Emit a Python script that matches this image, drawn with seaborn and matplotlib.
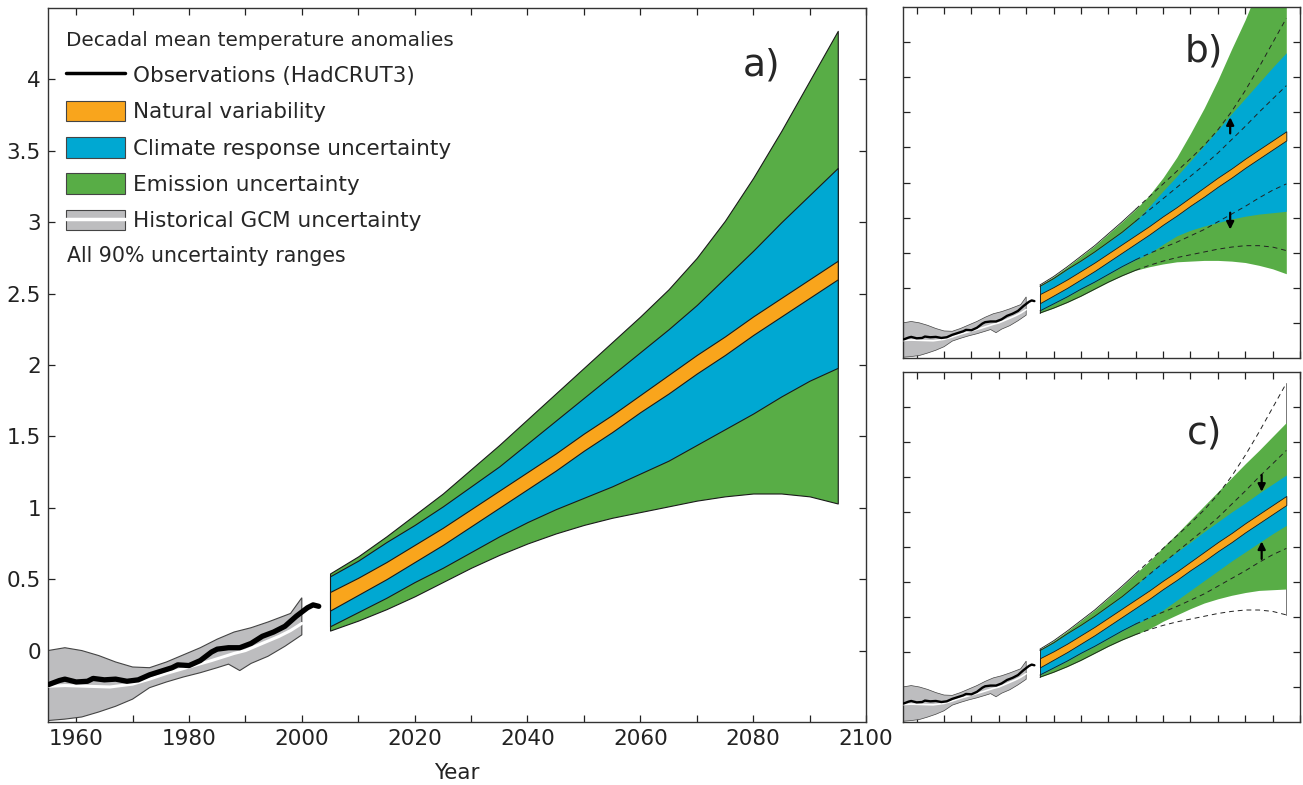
import matplotlib
matplotlib.use("Agg")
import matplotlib.pyplot as plt
import seaborn as sns
import numpy as np
from matplotlib.patches import Patch
from matplotlib.lines import Line2D
from matplotlib.legend_handler import HandlerTuple
from matplotlib.ticker import MultipleLocator, FormatStrFormatter

# --- Historical data (1955-2003) ---
grey_hi_years = [1955, 1958, 1961, 1964, 1967, 1970, 1973, 1976, 1979, 1982, 1985, 1988, 1991, 1994, 1996, 1998, 2000]
grey_hi = [0.00, 0.02, 0.00, -0.035, -0.08, -0.115, -0.12, -0.08, -0.03, 0.02, 0.08, 0.13, 0.16, 0.20, 0.23, 0.26, 0.37]
grey_lo_years = [1955, 1958, 1961, 1964, 1967, 1970, 1973, 1976, 1979, 1982, 1985, 1987, 1989, 1991, 1994, 1997, 2000]
grey_lo = [-0.49, -0.48, -0.465, -0.43, -0.39, -0.34, -0.26, -0.22, -0.185, -0.155, -0.12, -0.095, -0.14, -0.09, -0.04, 0.03, 0.11]

obs_years = [1955, 1957, 1958, 1960, 1962, 1963, 1965, 1967, 1969, 1971, 1973, 1975, 1977, 1978, 1980,
             1982, 1984, 1985, 1987, 1989, 1991, 1993, 1995, 1997, 1999, 2000, 2001, 2002, 2003]
obs = [-0.24, -0.21, -0.20, -0.22, -0.215, -0.195, -0.205, -0.20, -0.215, -0.205, -0.17, -0.145, -0.12, -0.10, -0.105,
       -0.07, -0.01, 0.01, 0.02, 0.02, 0.05, 0.10, 0.13, 0.17, 0.24, 0.27, 0.30, 0.32, 0.31]

gcm_years = [1955, 1958, 1962, 1966, 1970, 1973, 1976, 1980, 1984, 1988, 1990, 1993, 1996, 1998, 2000]
gcm_mean = [-0.25, -0.245, -0.25, -0.255, -0.235, -0.20, -0.16, -0.115, -0.07, -0.02, 0.00, 0.05, 0.10, 0.14, 0.19]

# --- Projections, panel a (2005-2095) ---
proj_years = [2005, 2010, 2015, 2020, 2025, 2030, 2035, 2040, 2045, 2050,
              2055, 2060, 2065, 2070, 2075, 2080, 2085, 2090, 2095]
green_hi = [0.54, 0.66, 0.80, 0.95, 1.10, 1.27, 1.44, 1.62, 1.80, 1.98, 2.16, 2.34, 2.53, 2.75, 3.01, 3.31, 3.64, 3.99, 4.34]
blue_hi = [0.52, 0.63, 0.76, 0.88, 1.01, 1.15, 1.29, 1.45, 1.61, 1.77, 1.93, 2.09, 2.25, 2.42, 2.61, 2.80, 3.00, 3.19, 3.38]
orange_hi = [0.41, 0.51, 0.62, 0.74, 0.86, 0.99, 1.12, 1.25, 1.38, 1.52, 1.65, 1.79, 1.93, 2.07, 2.20, 2.34, 2.47, 2.60, 2.73]
orange_lo = [0.28, 0.39, 0.50, 0.62, 0.74, 0.87, 1.00, 1.13, 1.26, 1.40, 1.53, 1.67, 1.80, 1.94, 2.07, 2.21, 2.34, 2.47, 2.60]
blue_lo = [0.17, 0.27, 0.37, 0.48, 0.58, 0.69, 0.80, 0.90, 0.99, 1.07, 1.15, 1.24, 1.33, 1.44, 1.55, 1.66, 1.78, 1.89, 1.98]
green_lo = [0.14, 0.21, 0.29, 0.38, 0.48, 0.58, 0.67, 0.75, 0.82, 0.88, 0.93, 0.97, 1.01, 1.05, 1.08, 1.10, 1.10, 1.08, 1.03]

# --- Panel b: 2045-2095 part (larger uncertainty) ---
b_green_hi_late = [1.82, 2.07, 2.36, 2.70, 3.06, 3.46, 3.90, 4.32, 4.80, 5.30, 5.80]
b_blue_hi_late = [1.66, 1.88, 2.09, 2.31, 2.53, 2.75, 2.98, 3.20, 3.42, 3.64, 3.85]
b_blue_lo_late = [0.99, 1.12, 1.24, 1.32, 1.38, 1.43, 1.48, 1.52, 1.55, 1.57, 1.59]
b_green_lo_late = [0.80, 0.84, 0.87, 0.88, 0.89, 0.89, 0.88, 0.86, 0.82, 0.77, 0.70]

# --- Panel c: 2045-2095 part (smaller uncertainty) ---
c_green_hi_late = [1.80, 2.00, 2.19, 2.39, 2.59, 2.79, 2.99, 3.19, 3.38, 3.58, 3.78]
c_blue_hi_late = [1.63, 1.79, 1.93, 2.07, 2.22, 2.36, 2.50, 2.63, 2.77, 2.90, 3.03]
c_blue_lo_late = [0.99, 1.10, 1.24, 1.38, 1.52, 1.66, 1.80, 1.93, 2.06, 2.19, 2.31]
c_green_lo_late = [0.83, 0.94, 1.03, 1.12, 1.20, 1.26, 1.31, 1.35, 1.38, 1.39, 1.40]

# arrows (year, start, end) in panels b and c
b_arrows = [(2074.5, 2.70, 2.93), (2074.5, 1.57, 1.33)]
c_arrows = [(2086, 3.03, 2.79), (2086, 1.83, 2.08)]

GREEN = "#58ad46"
BLUE = "#00a8d2"
ORANGE = "#f9a51c"
GREY = "#bdbdbf"
EDGE = "#1a1a1a"
FS = 15.5

sns.set_style("white")
plt.rcParams['font.family'] = ['DejaVu Sans']

fig = plt.figure(figsize=(13.03, 7.85), dpi=100)
ax_a = fig.add_axes([0.0368, 0.0803, 0.6278, 0.9095])
ax_b = fig.add_axes([0.693, 0.544, 0.3047, 0.447])
ax_c = fig.add_axes([0.693, 0.0803, 0.3047, 0.4457])


def draw_history(ax, lw_obs, lw_white, lw_edge):
    xs = np.concatenate([grey_hi_years, grey_lo_years[::-1]])
    ys = np.concatenate([grey_hi, grey_lo[::-1]])
    ax.fill(xs, ys, facecolor=GREY, edgecolor="#444444", linewidth=lw_edge, zorder=2)
    sns.lineplot(x=gcm_years, y=gcm_mean, ax=ax, color="white", linewidth=lw_white,
                 estimator=None, sort=False, zorder=3)
    sns.lineplot(x=obs_years, y=obs, ax=ax, color="black", linewidth=lw_obs,
                 estimator=None, sort=False, zorder=4)


def style_axes(ax, labels):
    ax.set_xlim(1955, 2100)
    ax.set_ylim(-0.5, 4.5)
    ax.xaxis.set_minor_locator(MultipleLocator(10))
    ax.tick_params(which="both", direction="in", length=5, width=0.9, color="#222222",
                   top=True, right=True, bottom=True, left=True)
    for s in ax.spines.values():
        s.set_color("#333333")
        s.set_linewidth(1.0)
    if labels:
        ax.set_xticks([1960, 1980, 2000, 2020, 2040, 2060, 2080, 2100])
        ax.set_yticks([0, 0.5, 1, 1.5, 2, 2.5, 3, 3.5, 4])
        ax.yaxis.set_major_formatter(FormatStrFormatter('%g'))
        ax.tick_params(labelsize=FS, pad=5, colors="#222222")
    else:
        ax.set_xticks(np.arange(1960, 2100, 10))
        ax.set_yticks(np.arange(0, 4.5, 0.5))
        ax.set_xticklabels([])
        ax.set_yticklabels([])
    ax.set_xlabel("")
    ax.set_ylabel("")


# --- Panel a ---
draw_history(ax_a, 3.8, 2.2, 0.8)
for lo, hi, col in [(green_lo, green_hi, GREEN), (blue_lo, blue_hi, BLUE), (orange_lo, orange_hi, ORANGE)]:
    ax_a.fill_between(proj_years, lo, hi, facecolor=col, edgecolor=EDGE, linewidth=0.8, zorder=2)
style_axes(ax_a, True)
ax_a.set_xlabel("Year", fontsize=FS, labelpad=10, color="#222222")
ax_a.text(2081.5, 4.1, "a)", fontsize=27, ha="center", va="center")

handles = [
    Line2D([0], [0], color="black", linewidth=2.5),
    Patch(facecolor=ORANGE, edgecolor="#444444", linewidth=0.8),
    Patch(facecolor=BLUE, edgecolor="#444444", linewidth=0.8),
    Patch(facecolor=GREEN, edgecolor="#444444", linewidth=0.8),
    (Patch(facecolor=GREY, edgecolor="#444444", linewidth=0.8), Line2D([0], [0], color="white", linewidth=2.5)),
]
labels = ["Observations (HadCRUT3)", "Natural variability", "Climate response uncertainty",
          "Emission uncertainty", "Historical GCM uncertainty"]
leg = ax_a.legend(handles, labels, title="Decadal mean temperature anomalies", loc="upper left",
                  bbox_to_anchor=(0.012, 0.98), frameon=False, fontsize=FS, title_fontsize=14.4,
                  handlelength=2.7, handleheight=1.1, handletextpad=0.4, labelspacing=0.68,
                  borderaxespad=0, alignment="left", handler_map={tuple: HandlerTuple(ndivide=1)})
ax_a.text(0.023, 0.653, "All 90% uncertainty ranges", transform=ax_a.transAxes,
          fontsize=14.8, va="center", ha="left")

# --- Panels b and c ---
k = proj_years.index(2040)
early = proj_years[:k + 1]
late = proj_years[k:]
for ax, ghi, bhi, blo, glo, arrows, tag, ty in [
        (ax_b, b_green_hi_late, b_blue_hi_late, b_blue_lo_late, b_green_lo_late, b_arrows, "b)", 3.87),
        (ax_c, c_green_hi_late, c_blue_hi_late, c_blue_lo_late, c_green_lo_late, c_arrows, "c)", 3.62)]:
    draw_history(ax, 1.7, 1.2, 0.5)
    g_hi = green_hi[:k + 1] + ghi
    b_hi = blue_hi[:k + 1] + bhi
    b_lo = blue_lo[:k + 1] + blo
    g_lo = green_lo[:k + 1] + glo
    ax.fill_between(proj_years, g_lo, g_hi, facecolor=GREEN, linewidth=0, zorder=2)
    ax.fill_between(proj_years, b_lo, b_hi, facecolor=BLUE, linewidth=0, zorder=2)
    ax.fill_between(proj_years, orange_lo, orange_hi, facecolor=ORANGE, edgecolor=EDGE, linewidth=0.6, zorder=2)
    for series in [green_hi, blue_hi, blue_lo, green_lo]:
        ax.plot(early, series[:k + 1], color=EDGE, linewidth=0.6, zorder=3)
        ax.plot(late, series[k:], color="#222222", linewidth=0.7, linestyle=(0, (5, 4)), zorder=3)
    ax.plot([proj_years[0], proj_years[0]], [green_lo[0], green_hi[0]], color=EDGE, linewidth=0.6, zorder=3)
    if ax is ax_c:
        ax.plot([proj_years[-1], proj_years[-1]], [green_lo[-1], green_hi[-1]], color="#777777",
                linewidth=0.7, zorder=1)
    for x, y0, y1 in arrows:
        ax.annotate("", xy=(x, y1), xytext=(x, y0),
                    arrowprops=dict(arrowstyle="-|>", color="black", lw=1.6, mutation_scale=11,
                                    shrinkA=0, shrinkB=0), zorder=5)
    style_axes(ax, False)
    ax.text(2065, ty, tag, fontsize=27, ha="center", va="center")

fig.savefig("out.png", dpi=100)
